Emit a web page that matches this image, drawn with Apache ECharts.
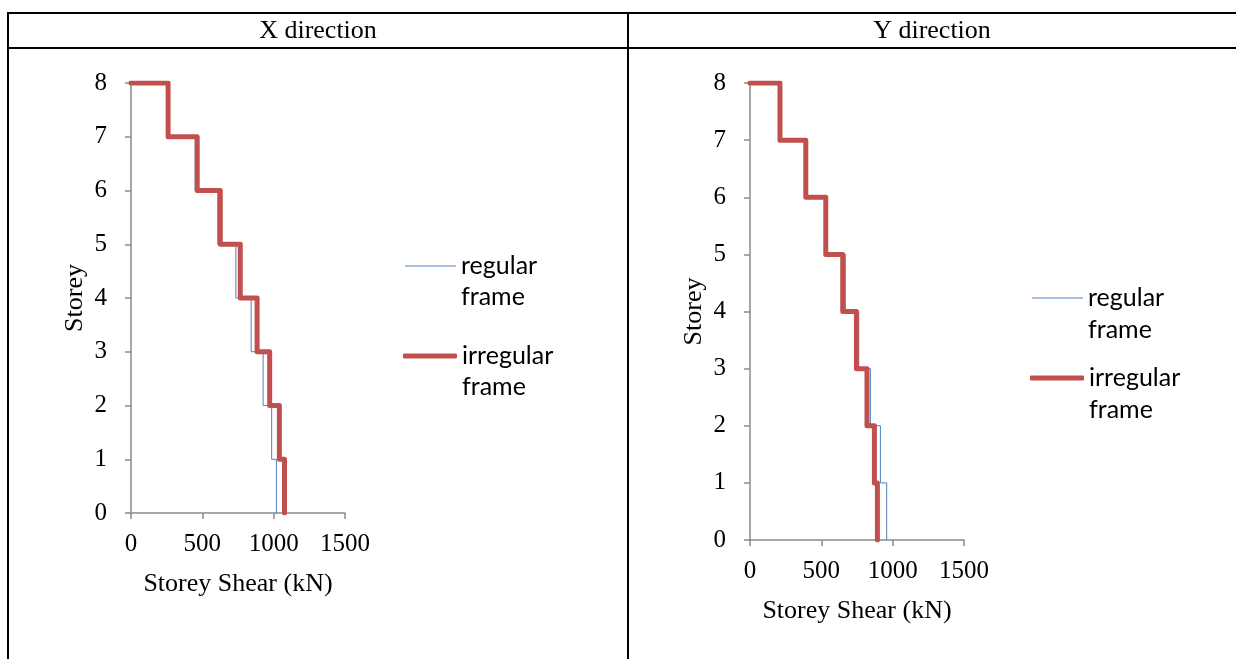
<!DOCTYPE html>
<html>
<head>
<meta charset="utf-8">
<script src="https://cdn.jsdelivr.net/npm/echarts@6/dist/echarts.min.js"></script>
<style>
html,body{margin:0;padding:0;background:#fff;}
#chart{width:1236px;height:659px;}
</style>
</head>
<body>
<div id="chart"></div>
<script>
// Storeys (top to bottom) and storey shear values (kN)
const storeys = [8, 7, 6, 5, 4, 3, 2, 1];
const xRegular   = [260, 450, 608, 735, 842, 926, 986, 1019];
const xIrregular = [260, 464, 626, 766, 884, 972, 1040, 1076];
const yRegular   = [210, 391, 540, 668, 762, 844, 914, 958];
const yIrregular = [210, 391, 531, 650, 746, 820, 872, 893];
const xTicks = [0, 500, 1000, 1500];
const panelTitles = ['X direction', 'Y direction'];
const seriesNames = ['regular frame', 'irregular frame'];
const legendLabels = {'regular frame': ['regular', 'frame'], 'irregular frame': ['irregular', 'frame']};

// Build step profile: horizontal at each storey level to its shear, then vertical down
function stepProfile(values) {
  const pts = [[0, storeys[0]]];
  storeys.forEach((s, i) => {
    pts.push([values[i], s]);
    pts.push([values[i], s - 1]);
  });
  return pts;
}

const SERIF = '"Liberation Serif", "Times New Roman", serif';
const SANS = 'Lato, "Open Sans", sans-serif';
const AXIS_COLOR = '#8a8a8a';
const BLUE = '#4F81BD';
const RED = '#C0504D';

const chart = echarts.init(document.getElementById('chart'), null, {renderer: 'canvas'});

function xAxisCfg(gridIndex) {
  return {
    gridIndex, type: 'value', min: xTicks[0], max: xTicks[xTicks.length - 1], interval: 500,
    name: 'Storey Shear (kN)', nameLocation: 'middle', nameGap: 58,
    nameTextStyle: {fontFamily: SERIF, fontSize: 26, color: '#000'},
    axisLine: {show: true, onZero: false, lineStyle: {color: AXIS_COLOR, width: 1.5}},
    axisTick: {show: true, length: 6, lineStyle: {color: AXIS_COLOR, width: 1.5}},
    axisLabel: {margin: 19, fontFamily: SERIF, fontSize: 25, color: '#000', formatter: v => String(v)},
    splitLine: {show: false}
  };
}
function yAxisCfg(gridIndex) {
  return {
    gridIndex, type: 'value', min: 0, max: 8, interval: 1,
    name: 'Storey', nameLocation: 'middle', nameGap: 43,
    nameTextStyle: {fontFamily: SERIF, fontSize: 26, color: '#000'},
    axisLine: {show: true, onZero: false, lineStyle: {color: AXIS_COLOR, width: 1.5}},
    axisTick: {show: true, length: 6, lineStyle: {color: AXIS_COLOR, width: 1.5}},
    axisLabel: {margin: 24, fontFamily: SERIF, fontSize: 25, color: '#000', formatter: v => String(v)},
    splitLine: {show: false}
  };
}
function lineSeries(name, values, idx) {
  const red = name === seriesNames[1];
  return {
    name, type: 'line', xAxisIndex: idx, yAxisIndex: idx,
    data: stepProfile(values), showSymbol: false, symbol: 'none', animation: false,
    lineStyle: {color: red ? RED : BLUE, width: red ? 5 : 1, cap: 'round', join: 'round'},
    itemStyle: {color: red ? RED : BLUE},
    z: red ? 3 : 2
  };
}
function legendCfg(name, left, top, lh) {
  const red = name === seriesNames[1];
  return {
    data: [{name, icon: red ? 'roundRect' : 'rect', itemStyle: {color: red ? RED : BLUE}}],
    left, top, orient: 'vertical', padding: 0,
    itemWidth: red ? 54 : 51, itemHeight: red ? 5 : 1,
    // blank first line so the first text line sits level with the icon
    formatter: n => ' \n' + legendLabels[n].join('\n'),
    textStyle: {fontFamily: SANS, fontSize: 25, color: '#000', lineHeight: lh},
    selectedMode: false
  };
}

const option = {
  animation: false,
  backgroundColor: '#fff',
  grid: [
    {left: 131, top: 83, width: 214, height: 430, containLabel: false},
    {left: 750, top: 83, width: 214, height: 457, containLabel: false}
  ],
  xAxis: [xAxisCfg(0), xAxisCfg(1)],
  yAxis: [yAxisCfg(0), yAxisCfg(1)],
  legend: [
    legendCfg(seriesNames[0], 405, 266 - 46.5, 31),
    legendCfg(seriesNames[1], 403, 356 - 46.5, 31),
    legendCfg(seriesNames[0], 1032, 298 - 48, 32),
    legendCfg(seriesNames[1], 1030, 378 - 48, 32)
  ],
  series: [
    lineSeries(seriesNames[0], xRegular, 0),
    lineSeries(seriesNames[1], xIrregular, 0),
    lineSeries(seriesNames[0], yRegular, 1),
    lineSeries(seriesNames[1], yIrregular, 1)
  ],
  graphic: [
    {type: 'line', shape: {x1: 8, y1: 13, x2: 1236, y2: 13}, style: {stroke: '#000', lineWidth: 2}},
    {type: 'line', shape: {x1: 8, y1: 48, x2: 1236, y2: 48}, style: {stroke: '#000', lineWidth: 2}},
    {type: 'line', shape: {x1: 8, y1: 12, x2: 8, y2: 659}, style: {stroke: '#000', lineWidth: 2}},
    {type: 'line', shape: {x1: 628, y1: 12, x2: 628, y2: 659}, style: {stroke: '#000', lineWidth: 2}},
    {type: 'text', x: 318, y: 31, style: {text: panelTitles[0], font: '26px ' + SERIF, fill: '#000', align: 'center', verticalAlign: 'middle'}},
    {type: 'text', x: 932, y: 31, style: {text: panelTitles[1], font: '26px ' + SERIF, fill: '#000', align: 'center', verticalAlign: 'middle'}}
  ]
};
chart.setOption(option);
</script>
</body>
</html>
